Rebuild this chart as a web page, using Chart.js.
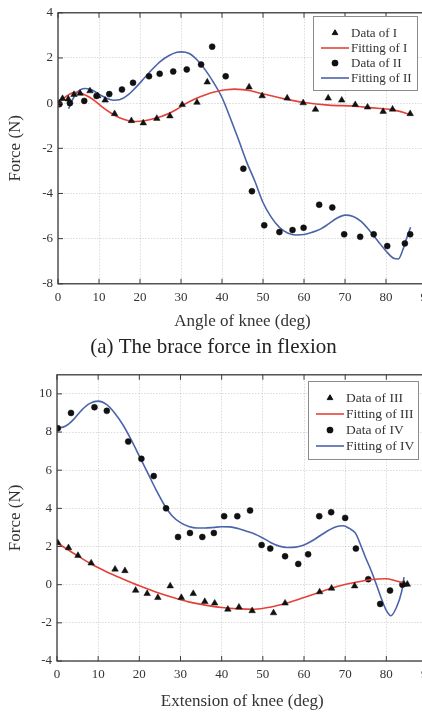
<!DOCTYPE html>
<html>
<head>
<meta charset="utf-8">
<script src="https://cdn.jsdelivr.net/npm/chart.js@4.4.0/dist/chart.umd.min.js"></script>
<style>
  html, body { margin: 0; padding: 0; background: #fff; overflow: hidden; }
  #wrap { position: relative; width: 422px; height: 715px; overflow: hidden; }
  canvas { position: absolute; left: 0; }
  #flexChart { top: 0; }
  #extChart { top: 362px; }
</style>
</head>
<body>
<div id="wrap">
  <canvas id="flexChart" width="440" height="362"></canvas>
  <canvas id="extChart" width="440" height="353"></canvas>
</div>
<script>
// (a) flexion - measured points
const dataIDeg = [0.3, 1.1, 2.5, 3.9, 5.4, 7.8, 9.7, 11.5, 13.8, 17.9, 20.8, 24.1, 27.3, 30.3, 33.9, 36.4, 46.6, 49.8, 55.9, 59.8, 62.8, 65.9, 69.2, 72.5, 75.5, 79.3, 81.6, 85.9];
const dataIForce = [0, 0.2, 0.18, 0.38, 0.43, 0.54, 0.32, 0.13, -0.47, -0.78, -0.88, -0.68, -0.57, -0.07, 0.03, 0.93, 0.71, 0.32, 0.22, 0.01, -0.28, 0.22, 0.13, -0.07, -0.18, -0.37, -0.27, -0.47];
const dataIIDeg = [0.3, 2.9, 6.4, 9.4, 12.5, 15.6, 18.3, 22.2, 24.8, 28.1, 31.4, 34.9, 37.6, 40.9, 45.2, 47.3, 50.3, 54, 57.2, 59.9, 63.7, 66.9, 69.8, 73.7, 77, 80.3, 84.6, 85.9];
const dataIIForce = [-0.05, 0, 0.1, 0.32, 0.4, 0.6, 0.9, 1.19, 1.3, 1.4, 1.49, 1.71, 2.5, 1.19, -2.9, -3.9, -5.41, -5.71, -5.62, -5.52, -4.5, -4.62, -5.81, -5.92, -5.81, -6.33, -6.21, -5.81];

// (a) flexion - fitted curves
const fitIDeg = [0, 1, 2, 3, 4.5, 6, 7.5, 9, 11, 13, 15, 17, 19, 21, 23, 25, 27, 29, 31, 33, 35, 37, 39, 41, 43, 45, 47, 49, 52, 55, 60, 66, 72, 76, 82, 86];
const fitIForce = [-0.15, 0.15, 0.3, 0.42, 0.48, 0.42, 0.28, 0.1, -0.2, -0.45, -0.65, -0.77, -0.81, -0.78, -0.7, -0.6, -0.46, -0.27, -0.04, 0.15, 0.3, 0.44, 0.53, 0.59, 0.62, 0.6, 0.55, 0.45, 0.33, 0.2, 0.03, -0.09, -0.13, -0.2, -0.31, -0.5];
const fitIIDeg = [2.6, 3.4, 4.5, 5.5, 6.6, 8, 10, 12, 13.5, 15, 17, 19, 21, 23, 25, 27, 29, 30, 32, 34, 36, 38, 40, 42, 44, 46, 48, 50, 52, 54, 56, 58, 60, 62, 64, 66, 68, 70, 72, 74, 76, 78, 80, 82, 83, 84, 85, 86];
const fitIIForce = [-0.25, 0.1, 0.45, 0.6, 0.65, 0.6, 0.4, 0.2, 0.13, 0.15, 0.35, 0.7, 1.1, 1.5, 1.85, 2.1, 2.25, 2.27, 2.2, 1.9, 1.45, 0.9, 0.25, -0.65, -1.6, -2.6, -3.45, -4.4, -5.05, -5.5, -5.75, -5.84, -5.82, -5.72, -5.58, -5.35, -5.1, -4.96, -5.02, -5.25, -5.65, -6.1, -6.55, -6.88, -6.9, -6.55, -6.0, -5.5];

// (b) extension - measured points
const dataIIIDeg = [0.2, 2.8, 5.1, 8.3, 14.1, 16.5, 19.1, 21.9, 24.5, 27.5, 30.2, 33.1, 35.9, 38.3, 41.5, 44.2, 47.4, 52.6, 55.4, 63.8, 66.7, 72.3, 84.3, 85.1];
const dataIIIForce = [2.19, 1.93, 1.53, 1.13, 0.81, 0.73, -0.3, -0.47, -0.68, -0.07, -0.68, -0.47, -0.89, -0.97, -1.29, -1.18, -1.37, -1.48, -0.97, -0.38, -0.19, -0.07, 0.02, 0.02];
const dataIVDeg = [0.2, 3.4, 9.1, 12.1, 17.3, 20.5, 23.5, 26.5, 29.4, 32.3, 35.3, 38.1, 40.6, 43.8, 46.9, 49.7, 51.8, 55.4, 58.6, 61, 63.7, 66.6, 70, 72.6, 75.6, 78.5, 80.9, 83.9];
const dataIVForce = [8.2, 9.0, 9.3, 9.11, 7.5, 6.6, 5.69, 4.0, 2.5, 2.71, 2.5, 2.71, 3.59, 3.59, 3.89, 2.08, 1.89, 1.49, 1.09, 1.59, 3.59, 3.8, 3.5, 1.89, 0.29, -1.01, -0.31, 0.0];

// (b) extension - fitted curves
const fitIIIDeg = [0, 4, 8, 12, 16, 20, 24, 28, 32, 36, 40, 44, 48, 52, 56, 60, 64, 68, 72, 76, 80, 82, 84.5];
const fitIIIForce = [2.2, 1.65, 1.12, 0.68, 0.3, -0.06, -0.38, -0.66, -0.9, -1.07, -1.2, -1.27, -1.29, -1.17, -0.95, -0.67, -0.38, -0.1, 0.1, 0.26, 0.31, 0.22, 0.05];
const fitIVDeg = [0, 2, 4, 6, 8, 10, 12, 14, 16, 18, 20, 22, 24, 26, 28, 30, 32, 34, 36, 38, 40, 42, 44, 46, 48, 50, 52, 54, 56, 58, 60, 62, 64, 66, 68, 69.5, 71, 72.5, 74, 75, 76, 77, 78, 79, 80, 81.1, 82.5, 83.7, 84.3];
const fitIVForce = [8.2, 8.3, 8.65, 9.15, 9.5, 9.62, 9.45, 9.0, 8.38, 7.6, 6.74, 5.87, 5.0, 4.2, 3.6, 3.25, 3.05, 2.97, 2.97, 3.0, 3.04, 3.03, 2.94, 2.8, 2.66, 2.45, 2.2, 2.02, 1.95, 1.97, 2.08, 2.3, 2.58, 2.85, 3.05, 3.09, 2.95, 2.7, 1.95, 1.4, 0.9, 0.35, -0.25, -0.85, -1.35, -1.63, -1.17, -0.38, 0.4];

const xTicks = [0, 10, 20, 30, 40, 50, 60, 70, 80, 90];

const RED = 'rgb(228, 66, 56)';
const BLUE = 'rgb(74, 100, 172)';
const SERIF = "'Liberation Serif', 'Times New Roman', serif";

function pts(xs, ys) {
    return xs.map((x, i) => ({ x: x, y: ys[i] }));
}

// frame round the plot with short inward ticks on all four sides
const framePlugin = {
    id: 'frame',
    afterDatasetsDraw(chart) {
        const { ctx, chartArea: a, scales } = chart;
        const len = 5;
        ctx.save();
        ctx.strokeStyle = '#3a3a3a';
        ctx.lineWidth = 1.3;
        ctx.strokeRect(a.left, a.top, a.right - a.left, a.bottom - a.top);
        ctx.lineWidth = 1;
        ctx.beginPath();
        scales.x.ticks.forEach(t => {
            const px = scales.x.getPixelForValue(t.value);
            ctx.moveTo(px, a.bottom); ctx.lineTo(px, a.bottom - len);
            ctx.moveTo(px, a.top); ctx.lineTo(px, a.top + len);
        });
        scales.y.ticks.forEach(t => {
            const py = scales.y.getPixelForValue(t.value);
            ctx.moveTo(a.left, py); ctx.lineTo(a.left + len, py);
            ctx.moveTo(a.right, py); ctx.lineTo(a.right - len, py);
        });
        ctx.stroke();
        ctx.restore();
    }
};

// boxed legend inside the top right corner
const boxLegend = {
    id: 'boxLegend',
    afterDraw(chart, args, opts) {
        const { ctx, chartArea } = chart;
        const x = Math.round(chartArea.right - opts.right - opts.width);
        const y = Math.round(chartArea.top + opts.top);
        ctx.save();
        ctx.fillStyle = '#fff';
        ctx.fillRect(x, y, opts.width, opts.height);
        ctx.strokeStyle = '#8c8c8c';
        ctx.lineWidth = 1;
        ctx.strokeRect(x + 0.5, y + 0.5, opts.width, opts.height);
        ctx.font = opts.font;
        ctx.textBaseline = 'middle';
        chart.data.datasets.forEach((ds, i) => {
            const cy = y + opts.first + i * opts.gap;
            if (ds.showLine) {
                ctx.strokeStyle = ds.borderColor;
                ctx.lineWidth = 1.6;
                ctx.beginPath();
                ctx.moveTo(x + 8, cy);
                ctx.lineTo(x + 36, cy);
                ctx.stroke();
            } else {
                ctx.fillStyle = '#111';
                ctx.strokeStyle = '#111';
                Chart.helpers.drawPoint(ctx, {
                    pointStyle: ds.pointStyle, radius: ds.pointRadius * 0.85, borderWidth: 1, rotation: 0
                }, x + 22, cy);
            }
            ctx.fillStyle = '#333';
            ctx.fillText(ds.label, x + opts.textX, cy + 0.5);
        });
        ctx.restore();
    }
};

function makeOptions(cfg) {
    return {
        responsive: false,
        animation: false,
        layout: { padding: cfg.padding },
        plugins: {
            legend: { display: false },
            tooltip: { enabled: false },
            title: cfg.caption ? {
                display: true, position: 'bottom', text: cfg.caption, color: '#222',
                font: { family: SERIF, size: 21, weight: 'normal' }, padding: { top: 3, bottom: 2 }
            } : { display: false },
            boxLegend: cfg.legend
        },
        scales: {
            x: {
                type: 'linear', min: 0, max: 90,
                afterBuildTicks: s => { s.ticks = xTicks.map(v => ({ value: v })); },
                afterFit: s => { s.height = cfg.xHeight; },
                ticks: { color: '#333', padding: 6, font: { family: SERIF, size: 13 } },
                grid: { color: 'rgba(0,0,0,0.14)', drawTicks: false },
                border: { display: false, dash: [1.5, 1.5] },
                title: {
                    display: true, text: cfg.xTitle, color: '#333',
                    font: { family: SERIF, size: 17 }, padding: { top: 0, bottom: 0 }
                }
            },
            y: {
                min: cfg.yMin, max: cfg.yMax,
                afterBuildTicks: s => { s.ticks = cfg.yTicks.map(v => ({ value: v })); },
                afterFit: s => { s.width = cfg.yWidth; },
                ticks: { color: '#333', padding: 5, font: { family: SERIF, size: 13 } },
                grid: { color: 'rgba(0,0,0,0.14)', drawTicks: false },
                border: { display: false, dash: [1.5, 1.5] },
                title: {
                    display: true, text: 'Force (N)', color: '#333',
                    font: { family: SERIF, size: 17 }, padding: { top: 5, bottom: 0 }
                }
            }
        }
    };
}

function makeDatasets(names, dA, fA, dB, fB) {
    return [
        { label: names[0], data: dA, showLine: false, pointStyle: 'triangle', pointRadius: 3.8,
          backgroundColor: '#111', borderColor: '#111', borderWidth: 0.5 },
        { label: names[1], data: fA, showLine: true, pointRadius: 0, borderColor: RED, borderWidth: 1.6,
          cubicInterpolationMode: 'monotone', fill: false },
        { label: names[2], data: dB, showLine: false, pointStyle: 'circle', pointRadius: 3,
          backgroundColor: '#111', borderColor: '#111', borderWidth: 0.5 },
        { label: names[3], data: fB, showLine: true, pointRadius: 0, borderColor: BLUE, borderWidth: 1.6,
          cubicInterpolationMode: 'monotone', fill: false }
    ];
}

Chart.register(framePlugin, boxLegend);

new Chart(document.getElementById('flexChart'), {
    type: 'scatter',
    data: {
        datasets: makeDatasets(['Data of I', 'Fitting of I', 'Data of II', 'Fitting of II'],
            pts(dataIDeg, dataIForce), pts(fitIDeg, fitIForce),
            pts(dataIIDeg, dataIIForce), pts(fitIIDeg, fitIIForce))
    },
    options: makeOptions({
        padding: { top: 12, right: 13, left: 0, bottom: 0 },
        caption: '(a) The brace force in flexion',
        xTitle: 'Angle of knee (deg)',
        xHeight: 48, yWidth: 58,
        yMin: -8, yMax: 4, yTicks: [-8, -6, -4, -2, 0, 2, 4],
        legend: { right: 10, width: 104, top: 3, height: 74, first: 17, gap: 15, textX: 38,
                  font: "13px 'Liberation Serif', serif" }
    })
});

new Chart(document.getElementById('extChart'), {
    type: 'scatter',
    data: {
        datasets: makeDatasets(['Data of III', 'Fitting of III', 'Data of IV', 'Fitting of IV'],
            pts(dataIIIDeg, dataIIIForce), pts(fitIIIDeg, fitIIIForce),
            pts(dataIVDeg, dataIVForce), pts(fitIVDeg, fitIVForce))
    },
    options: makeOptions({
        padding: { top: 11, right: 12, left: 0, bottom: 3 },
        caption: null,
        xTitle: 'Extension of knee (deg)',
        xHeight: 51, yWidth: 57,
        yMin: -4, yMax: 11, yTicks: [-4, -2, 0, 2, 4, 6, 8, 10],
        legend: { right: 10, width: 110, top: 6, height: 78, first: 17, gap: 16, textX: 38,
                  font: "13.5px 'Liberation Serif', serif" }
    })
});
</script>
</body>
</html>
